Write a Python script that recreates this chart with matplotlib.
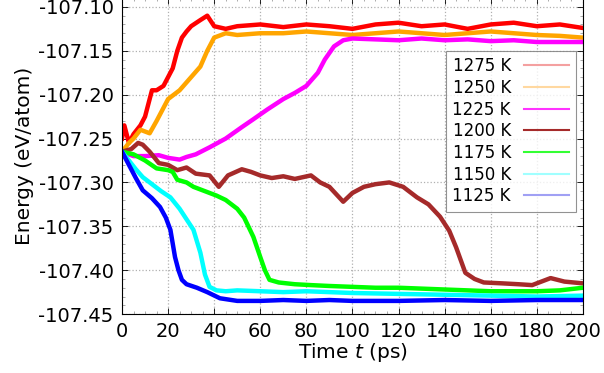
import numpy as np
import matplotlib
matplotlib.use('Agg')
import matplotlib.pyplot as plt
from matplotlib.lines import Line2D
from matplotlib.ticker import MultipleLocator

plt.rcParams['font.family'] = ['DejaVu Sans']

# energy traces (time in ps, energy in eV/atom)
t_1275 = [0, 1, 3, 5, 8, 10, 13, 15, 18, 20, 22, 24, 26, 28, 30, 34, 37, 40, 45, 50, 60, 70, 80, 90, 100, 110, 120, 130, 140, 150, 160, 170, 180, 190, 200]
e_1275 = [-107.25, -107.235, -107.255, -107.245, -107.235, -107.225, -107.195, -107.195, -107.19, -107.18, -107.17, -107.15, -107.135, -107.128, -107.122, -107.115, -107.11, -107.122, -107.125, -107.122, -107.12, -107.123, -107.12, -107.122, -107.125, -107.12, -107.118, -107.122, -107.12, -107.125, -107.12, -107.118, -107.122, -107.12, -107.124]

t_1250 = [0, 3, 5, 8, 12, 15, 20, 25, 30, 34, 37, 40, 45, 50, 60, 70, 80, 90, 100, 110, 120, 130, 140, 150, 160, 170, 180, 190, 200]
e_1250 = [-107.265, -107.255, -107.25, -107.24, -107.244, -107.23, -107.205, -107.195, -107.18, -107.168, -107.15, -107.135, -107.13, -107.132, -107.13, -107.13, -107.128, -107.13, -107.132, -107.13, -107.128, -107.13, -107.132, -107.13, -107.128, -107.13, -107.132, -107.133, -107.135]

t_1225 = [0, 5, 10, 16, 20, 25, 28, 32, 38, 45, 52, 57, 63, 70, 75, 80, 85, 88, 92, 96, 100, 110, 120, 130, 140, 150, 160, 170, 180, 190, 200]
e_1225 = [-107.265, -107.27, -107.27, -107.269, -107.272, -107.274, -107.271, -107.268, -107.26, -107.25, -107.237, -107.228, -107.217, -107.205, -107.198, -107.19, -107.175, -107.16, -107.145, -107.138, -107.136, -107.137, -107.138, -107.136, -107.138, -107.137, -107.139, -107.138, -107.14, -107.14, -107.14]

t_1200 = [0, 4, 7, 9, 12, 16, 20, 24, 28, 32, 38, 42, 46, 52, 56, 60, 65, 70, 75, 82, 86, 90, 96, 100, 105, 110, 116, 122, 128, 133, 138, 142, 145, 149, 153, 157, 165, 172, 178, 186, 192, 200]
e_1200 = [-107.265, -107.262, -107.255, -107.257, -107.265, -107.278, -107.28, -107.286, -107.283, -107.29, -107.292, -107.305, -107.292, -107.285, -107.288, -107.292, -107.295, -107.293, -107.296, -107.292, -107.3, -107.305, -107.322, -107.312, -107.305, -107.302, -107.3, -107.305, -107.317, -107.325, -107.339, -107.355, -107.374, -107.403, -107.41, -107.414, -107.415, -107.416, -107.417, -107.409, -107.413, -107.415]

t_1175 = [0, 5, 10, 15, 20, 22, 24, 28, 31, 36, 41, 45, 50, 53, 57, 60, 62, 64, 68, 75, 82, 90, 100, 110, 120, 130, 140, 150, 160, 170, 180, 190, 200]
e_1175 = [-107.265, -107.268, -107.275, -107.284, -107.286, -107.288, -107.297, -107.3, -107.305, -107.31, -107.315, -107.32, -107.33, -107.34, -107.362, -107.385, -107.4, -107.411, -107.414, -107.416, -107.417, -107.418, -107.419, -107.42, -107.42, -107.421, -107.422, -107.423, -107.424, -107.424, -107.424, -107.423, -107.42]

t_1150 = [0, 3, 6, 9, 13, 17, 21, 25, 28, 31, 34, 36, 38, 41, 45, 50, 60, 70, 80, 90, 100, 120, 140, 160, 180, 200]
e_1150 = [-107.265, -107.275, -107.285, -107.294, -107.302, -107.31, -107.317, -107.33, -107.342, -107.354, -107.38, -107.405, -107.419, -107.423, -107.424, -107.423, -107.424, -107.425, -107.424, -107.425, -107.426, -107.427, -107.428, -107.429, -107.43, -107.429]

t_1125 = [0, 3, 6, 9, 13, 16.5, 19, 21, 23, 24.5, 26, 28, 32.5, 37, 42.5, 50, 60, 70, 80, 90, 100, 120, 140, 160, 180, 200]
e_1125 = [-107.265, -107.28, -107.295, -107.309, -107.318, -107.328, -107.34, -107.354, -107.385, -107.4, -107.411, -107.416, -107.42, -107.425, -107.432, -107.435, -107.435, -107.434, -107.435, -107.434, -107.435, -107.435, -107.434, -107.435, -107.434, -107.434]

y_ticks = [-107.45, -107.40, -107.35, -107.30, -107.25, -107.20, -107.15, -107.10]

series = [
    ('1275 K', t_1275, e_1275, '#ff0000', '#f4a0a0'),
    ('1250 K', t_1250, e_1250, '#ffa500', '#ffd8a0'),
    ('1225 K', t_1225, e_1225, '#ff00ff', '#ff33ff'),
    ('1200 K', t_1200, e_1200, '#a52a2a', '#a52a2a'),
    ('1175 K', t_1175, e_1175, '#00ff00', '#33ff33'),
    ('1150 K', t_1150, e_1150, '#00ffff', '#a0ffff'),
    ('1125 K', t_1125, e_1125, '#0000ff', '#a0a0f4'),
]

fig = plt.figure(figsize=(6.04, 3.73), dpi=100)
ax = fig.add_axes([0.202, 0.158, 0.763, 0.847])

handles = []
for label, t, e, col, key_col in series:
    ax.plot(t, e, color=col, lw=3.2, solid_joinstyle='round')
    handles.append(Line2D([], [], color=key_col, lw=1.5, label=label))

ax.set_xlim(0, 200)
ax.set_ylim(-107.45, -107.09)
ax.xaxis.set_major_locator(MultipleLocator(20))
ax.xaxis.set_minor_locator(MultipleLocator(5))
ax.yaxis.set_minor_locator(MultipleLocator(0.01))
ax.set_yticks(y_ticks)
ax.set_yticklabels([f'{v:.2f}' for v in y_ticks])

ax.grid(True, which='major', color='#b0b0b0', linestyle=':', linewidth=0.9)
ax.tick_params(which='both', direction='in', top=True, right=True, labelsize=14)
ax.tick_params(which='major', length=4, width=0.6, pad=6)
ax.tick_params(which='minor', length=2, width=0.5, color='#888888')
for s in ax.spines.values():
    s.set_linewidth(0.8)

ax.set_xlabel('Time $t$ (ps)', fontsize=14.5, labelpad=0)
ax.set_ylabel('Energy (eV/atom)', fontsize=14.5, labelpad=3)

leg = ax.legend(handles=handles, loc='upper right', bbox_to_anchor=(0.985, 0.834),
                markerfirst=False, fontsize=12, frameon=True, fancybox=False,
                handlelength=2.7, labelspacing=0.22, borderpad=0.4,
                handletextpad=0.8, borderaxespad=0)
leg.get_frame().set_edgecolor('#777777')
leg.get_frame().set_linewidth(0.8)

fig.savefig('out.png', dpi=100)
